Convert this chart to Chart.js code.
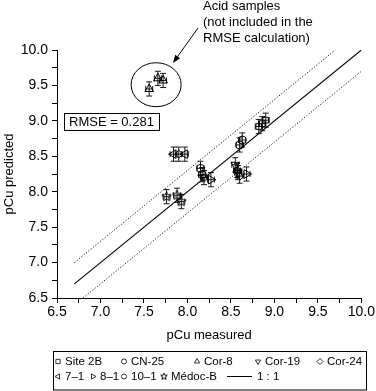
<!DOCTYPE html>
<html>
<head>
<meta charset="utf-8">
<script src="https://cdn.jsdelivr.net/npm/chart.js@4.4.1/dist/chart.umd.min.js"></script>
<style>
  html, body { margin: 0; padding: 0; background: #fff; }
  #wrap { width: 376px; height: 391px; }
</style>
</head>
<body>
<div id="wrap"><canvas id="chart" width="376" height="391"></canvas></div>
<script>
// ── Data ────────────────────────────────────────────────────────────────────
const site2bX  = [8.82, 8.90, 8.86];
const site2bY  = [8.92, 9.01, 8.96];
const cn25X    = [8.15, 8.17, 8.60, 8.63];
const cn25Y    = [8.33, 8.24, 8.66, 8.73];
const cor8X    = [7.56, 7.66, 7.72];
const cor8Y    = [9.45, 9.60, 9.57];
const cor19X   = [8.55, 8.58];
const cor19Y   = [8.38, 8.27];
const cor24X   = [7.90, 8.60];
const cor24Y   = [8.53, 8.22];
const s71X     = [7.84, 7.97];
const s71Y     = [8.53, 8.53];
const s81X     = [8.27, 8.68];
const s81Y     = [8.17, 8.25];
const s101X    = [8.19, 8.57];
const s101Y    = [8.20, 8.30];
const medocX   = [7.76, 7.88, 7.93];
const medocY   = [7.93, 7.95, 7.86];

// error bar half-widths (x / y)
const errXSmall = 0.04;
const errYSmall = 0.10;

// 1:1 line and +/-0.3 band
const oneX   = [6.7, 10.0];
const oneY   = [6.7, 10.0];
const upperX = [6.7, 9.7];
const upperY = [7.0, 10.0];
const lowerX = [6.8, 10.0];
const lowerY = [6.5, 9.7];

const axisMin = 6.5;
const axisMax = 10.0;
const rmseText = "RMSE = 0.281";
const acidNote = ["Acid samples", "(not included in the", "RMSE calculation)"];

const FONT = '"Liberation Sans", Arial, Helvetica, sans-serif';

// ── Helpers ─────────────────────────────────────────────────────────────────
function pts(xs, ys) {
  return xs.map((x, i) => ({ x: x, y: ys[i] }));
}

function makeStar(size) {
  const c = document.createElement("canvas");
  c.width = c.height = size;
  const g = c.getContext("2d");
  const cx = size / 2, cy = size / 2, R = size / 2 - 0.5, r = R * 0.45;
  g.beginPath();
  for (let i = 0; i < 10; i++) {
    const a = -Math.PI / 2 + i * Math.PI / 5;
    const rr = i % 2 ? r : R;
    g.lineTo(cx + rr * Math.cos(a), cy + rr * Math.sin(a));
  }
  g.closePath();
  g.strokeStyle = "#000";
  g.lineWidth = 1;
  g.stroke();
  return c;
}
const starBig = makeStar(11);
const starSmall = makeStar(8);

function series(label, xs, ys, style, rotation, radius) {
  return {
    label: label,
    data: pts(xs, ys),
    pointStyle: style,
    rotation: rotation || 0,
    pointRadius: radius || 4,
    pointHoverRadius: radius || 4,
    borderColor: "#000",
    backgroundColor: "rgba(0,0,0,0)",
    borderWidth: 1,
    showLine: false,
    errX: errXSmall,
    errY: errYSmall,
  };
}

function refLine(label, xs, ys, dash) {
  return {
    label: label,
    data: pts(xs, ys),
    showLine: true,
    borderColor: "#000",
    borderWidth: dash ? 0.9 : 1.1,
    borderDash: dash || [],
    pointRadius: 0,
    pointHoverRadius: 0,
    fill: false,
    isLine: true,
  };
}

const datasets = [
  series("Site 2B", site2bX, site2bY, "rect", 0, 4),
  series("CN-25", cn25X, cn25Y, "circle", 0, 4),
  series("Cor-8", cor8X, cor8Y, "triangle", 0, 5),
  series("Cor-19", cor19X, cor19Y, "triangle", 180, 5),
  series("Cor-24", cor24X, cor24Y, "rectRot", 0, 4),
  series("7\u20131", s71X, s71Y, "triangle", 270, 5),
  series("8\u20131", s81X, s81Y, "triangle", 90, 5),
  series("10\u20131", s101X, s101Y, "circle", 0, 3),
  series("M\u00e9doc-B", medocX, medocY, starBig, 0, 5),
  refLine("1 : 1", oneX, oneY, null),
  refLine("upper", upperX, upperY, [1.2, 1.8]),
  refLine("lower", lowerX, lowerY, [1.2, 1.8]),
];

// ── Plugins ─────────────────────────────────────────────────────────────────
const errorBars = {
  id: "errorBars",
  beforeDatasetsDraw(chart) {
    const { ctx, scales: { x, y } } = chart;
    ctx.save();
    ctx.strokeStyle = "#000";
    ctx.lineWidth = 0.9;
    chart.data.datasets.forEach((ds) => {
      if (ds.isLine) return;
      ds.data.forEach((p) => {
        const px = x.getPixelForValue(p.x);
        const py = y.getPixelForValue(p.y);
        const y0 = y.getPixelForValue(p.y - ds.errY);
        const y1 = y.getPixelForValue(p.y + ds.errY);
        const x0 = x.getPixelForValue(p.x - ds.errX);
        const x1 = x.getPixelForValue(p.x + ds.errX);
        const cap = 3;
        ctx.beginPath();
        ctx.moveTo(px, y0); ctx.lineTo(px, y1);
        ctx.moveTo(px - cap, y0); ctx.lineTo(px + cap, y0);
        ctx.moveTo(px - cap, y1); ctx.lineTo(px + cap, y1);
        ctx.moveTo(x0, py); ctx.lineTo(x1, py);
        ctx.moveTo(x0, py - cap); ctx.lineTo(x0, py + cap);
        ctx.moveTo(x1, py - cap); ctx.lineTo(x1, py + cap);
        ctx.stroke();
      });
    });
    ctx.restore();
  },
};

const annotations = {
  id: "annotations",
  afterDraw(chart) {
    const { ctx, scales: { x, y } } = chart;
    ctx.save();
    ctx.strokeStyle = "#000";
    ctx.fillStyle = "#000";
    ctx.lineWidth = 1;

    // circle round the acid samples
    const cx = x.getPixelForValue(7.64);
    const cy = y.getPixelForValue(9.51);
    ctx.beginPath();
    ctx.ellipse(cx, cy, 25, 22, 0, 0, Math.PI * 2);
    ctx.stroke();

    // arrow from the note to the circle
    const ax0 = 198, ay0 = 28, ax1 = 173, ay1 = 63;
    const ang = Math.atan2(ay1 - ay0, ax1 - ax0);
    ctx.beginPath();
    ctx.moveTo(ax0, ay0);
    ctx.lineTo(ax1 - 5 * Math.cos(ang), ay1 - 5 * Math.sin(ang));
    ctx.stroke();
    ctx.beginPath();
    ctx.moveTo(ax1, ay1);
    ctx.lineTo(ax1 - 8 * Math.cos(ang) + 3 * Math.sin(ang), ay1 - 8 * Math.sin(ang) - 3 * Math.cos(ang));
    ctx.lineTo(ax1 - 8 * Math.cos(ang) - 3 * Math.sin(ang), ay1 - 8 * Math.sin(ang) + 3 * Math.cos(ang));
    ctx.closePath();
    ctx.fill();

    // note text
    ctx.font = "13px " + FONT;
    ctx.textAlign = "left";
    ctx.textBaseline = "middle";
    acidNote.forEach((t, i) => ctx.fillText(t, 203, 6 + i * 16));

    // RMSE box
    ctx.strokeRect(64.5, 113.5, 95, 17);
    ctx.fillText(rmseText, 69, 122.5);

    // legend
    const lx0 = 53.5, ly0 = 351.5, lx1 = 366.5, ly1 = 390;
    ctx.strokeRect(lx0, ly0, lx1 - lx0, ly1 - ly0);
    ctx.font = "11.5px " + FONT;
    const rows = [
      [[0, 58], [1, 124], [2, 197], [3, 258], [4, 320]],
      [[5, 58], [6, 93], [7, 124], [8, 164], [9, 227]],
    ];
    const rowY = [361.5, 376.5];
    rows.forEach((row, r) => {
      row.forEach(([idx, mx]) => {
        const ds = chart.data.datasets[idx];
        const my = rowY[r];
        if (ds.isLine) {
          ctx.lineWidth = 1;
          ctx.beginPath();
          ctx.moveTo(mx, my); ctx.lineTo(mx + 25, my);
          ctx.stroke();
          ctx.fillStyle = "#000";
          ctx.fillText(ds.label, mx + 30, my);
          return;
        }
        const style = ds.pointStyle === starBig ? starSmall : ds.pointStyle;
        ctx.lineWidth = 0.8;
        ctx.fillStyle = "rgba(0,0,0,0)";
        Chart.helpers.drawPoint(ctx, {
          pointStyle: style,
          rotation: ds.rotation,
          radius: ds.pointStyle === "circle" ? 2.5 : 3,
          borderWidth: 0.8,
        }, mx, my);
        ctx.fillStyle = "#000";
        ctx.lineWidth = 1;
        ctx.fillText(ds.label, mx + 7, my);
      });
    });
    ctx.restore();
  },
};

// ── Chart ───────────────────────────────────────────────────────────────────
const tickLabel = (v) => {
  const twice = v * 2;
  return Math.abs(twice - Math.round(twice)) < 1e-6 ? Number(v).toFixed(1) : "";
};

new Chart(document.getElementById("chart"), {
  type: "scatter",
  data: { datasets: datasets },
  plugins: [errorBars, annotations],
  options: {
    responsive: false,
    animation: false,
    events: [],
    layout: { padding: { top: 50, right: 13, bottom: 43, left: 0 } },
    plugins: {
      legend: { display: false },
      tooltip: { enabled: false },
    },
    scales: {
      x: {
        type: "linear",
        min: axisMin,
        max: axisMax,
        afterFit: (s) => { s.height = 50; },
        ticks: {
          stepSize: 0.25,
          autoSkip: false,
          maxRotation: 0,
          padding: 1,
          color: "#000",
          font: { family: FONT, size: 14 },
          callback: tickLabel,
        },
        grid: { drawOnChartArea: false, tickLength: 5, color: "#000" },
        border: { display: true, color: "#000", width: 1 },
        title: {
          display: true,
          text: "pCu measured",
          color: "#000",
          font: { family: FONT, size: 13 },
          padding: { top: 0, bottom: 5 },
        },
      },
      y: {
        type: "linear",
        min: axisMin,
        max: axisMax,
        afterFit: (s) => { s.width = 57; },
        ticks: {
          stepSize: 0.25,
          autoSkip: false,
          padding: 4,
          color: "#000",
          font: { family: FONT, size: 14 },
          callback: tickLabel,
        },
        grid: { drawOnChartArea: false, tickLength: 5, color: "#000" },
        border: { display: true, color: "#000", width: 1 },
        title: {
          display: true,
          text: "pCu predicted",
          color: "#000",
          font: { family: FONT, size: 13 },
          padding: { top: 2, bottom: 0 },
        },
      },
    },
  },
});
</script>
</body>
</html>
